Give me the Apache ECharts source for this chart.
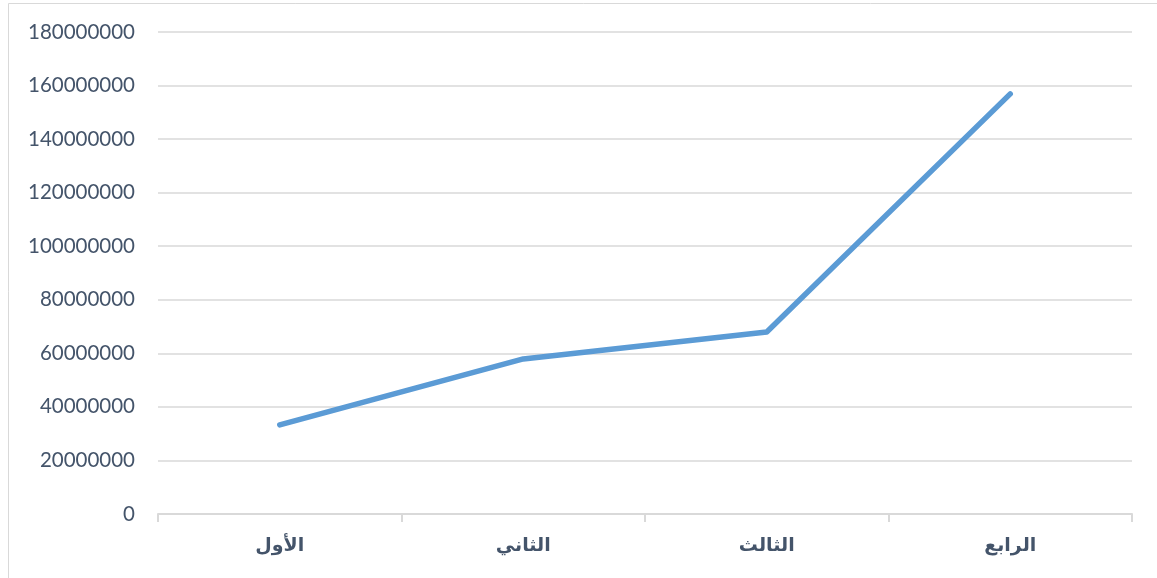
<!DOCTYPE html>
<html><head><meta charset="utf-8">
<script src="https://cdn.jsdelivr.net/npm/echarts@6/dist/echarts.min.js"></script>
<style>html,body{margin:0;padding:0;background:#fff}#c{width:1157px;height:578px}</style>
</head><body><div id="c"></div>
<script>
var categories = ['الأول', 'الثاني', 'الثالث', 'الرابع'];
var values = [33300000, 57900000, 68000000, 156900000];
var yMin = 0, yMax = 180000000, yStep = 20000000;

var chart = echarts.init(document.getElementById('c'), null, {renderer: 'canvas'});
chart.setOption({
  animation: false,
  backgroundColor: '#fff',
  graphic: [{type: 'rect', shape: {x: 8.5, y: 3.5, width: 1200, height: 700}, style: {fill: 'none', stroke: '#d9d9d9', lineWidth: 1}, silent: true}],
  grid: {left: 158, right: 25, top: 32, bottom: 64, containLabel: false},
  xAxis: {
    type: 'category', data: categories, boundaryGap: true,
    axisLine: {lineStyle: {color: '#d9d9d9', width: 2}},
    axisTick: {show: true, length: 8, lineStyle: {color: '#d9d9d9', width: 2}},
    axisLabel: {color: '#44546A', fontFamily: 'DejaVu Sans', fontWeight: 'bold', fontSize: 19, margin: 23}
  },
  yAxis: {
    type: 'value', min: yMin, max: yMax, interval: yStep,
    axisLine: {show: false}, axisTick: {show: false},
    splitLine: {lineStyle: {color: '#d9d9d9', width: 1.5}},
    axisLabel: {color: '#44546A', fontFamily: 'Lato', fontSize: 20.5, margin: 23,
      formatter: function (v) { return String(v); }}
  },
  series: [{
    type: 'line', data: values, symbol: 'none',
    lineStyle: {color: '#5B9BD5', width: 5.5, cap: 'round', join: 'round'}
  }]
});
</script></body></html>
